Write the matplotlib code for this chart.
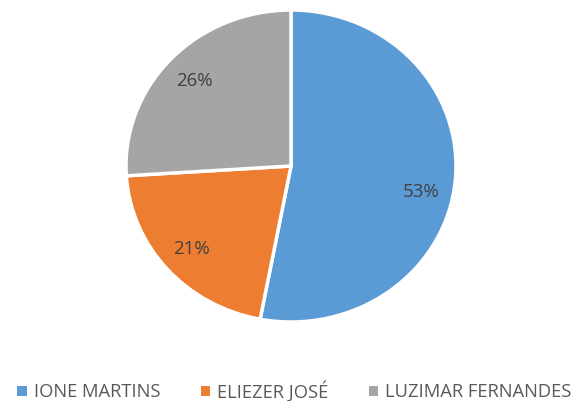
import matplotlib
matplotlib.use("Agg")
import matplotlib.pyplot as plt
from matplotlib.patches import Patch

labels = ["IONE MARTINS", "ELIEZER JOSÉ", "LUZIMAR FERNANDES"]
values = [53, 21, 26]
colors = ["#5B9BD5", "#ED7D31", "#A5A5A5"]

W, H = 581, 401
fig = plt.figure(figsize=(W / 100, H / 100), dpi=100)
cx, cy, rx, ry = 291, 166, 165, 156
ax = fig.add_axes([(cx - rx) / W, (H - cy - ry) / H, 2 * rx / W, 2 * ry / H])
wedges, texts, autotexts = ax.pie(
    values, colors=colors, startangle=90, counterclock=False,
    autopct=lambda p: f"{round(p):d}%", pctdistance=0.8,
    wedgeprops=dict(edgecolor="white", linewidth=2.5),
    textprops=dict(color="#404040", fontsize=13.5, family="Open Sans"),
    frame=False,
)
ax.set_aspect("auto")
ax.set_xlim(-1, 1)
ax.set_ylim(-1, 1)
# Excel-style placement nudge for the large slice label
x0, y0 = autotexts[0].get_position()
autotexts[0].set_position((x0 - 0.01, y0 - 0.09))

handles = [Patch(facecolor=c, edgecolor="none") for c in colors]
leg = fig.legend(handles, labels, loc="center", bbox_to_anchor=(0.507, (H - 391) / H),
                 ncol=3, frameon=False, handlelength=0.5, handleheight=0.5,
                 handletextpad=0.4, columnspacing=2.2,
                 prop=dict(family="Open Sans", size=13.2))
for t in leg.get_texts():
    t.set_color("#595959")

fig.savefig("out.png", dpi=100, facecolor="white")
